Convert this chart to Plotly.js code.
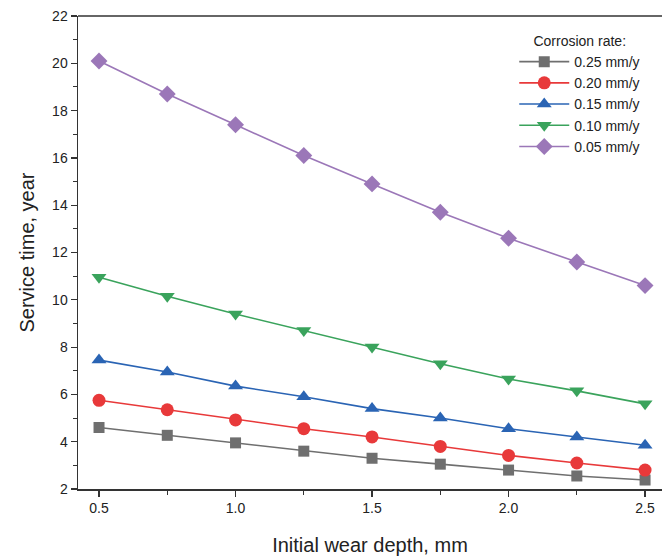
<!DOCTYPE html>
<html>
<head>
<meta charset="utf-8">
<script src="https://cdn.plot.ly/plotly-3.0.1.min.js"></script>
<style>html,body{margin:0;padding:0;background:#fff;}#chart{width:662px;height:560px;}</style>
</head>
<body>
<div id="chart"></div>
<script>
const depth = [0.5, 0.75, 1.0, 1.25, 1.5, 1.75, 2.0, 2.25, 2.5];
const rate025 = [4.6, 4.27, 3.95, 3.6, 3.3, 3.05, 2.8, 2.55, 2.38];
const rate020 = [5.75, 5.35, 4.92, 4.55, 4.2, 3.8, 3.42, 3.1, 2.8];
const rate015 = [7.45, 6.95, 6.35, 5.9, 5.4, 5.0, 4.55, 4.2, 3.85];
const rate010 = [10.95, 10.15, 9.4, 8.7, 8.0, 7.3, 6.65, 6.15, 5.6];
const rate005 = [20.1, 18.7, 17.4, 16.1, 14.9, 13.7, 12.6, 11.6, 10.6];
const seriesNames = ["0.25 mm/y", "0.20 mm/y", "0.15 mm/y", "0.10 mm/y", "0.05 mm/y"];
const xTickVals = [0.5, 1.0, 1.5, 2.0, 2.5];
const xTickText = ["0.5", "1.0", "1.5", "2.0", "2.5"];

const colors = ["#6f6f6f", "#e8393a", "#2a64b4", "#3aa35c", "#9b77b8"];
const symbols = ["square", "circle", "triangle-up", "triangle-down", "diamond"];
const sizes = [11, 13, 13, 13, 13];
const allY = [rate025, rate020, rate015, rate010, rate005];

const traces = allY.map((ys, i) => ({
  x: depth, y: ys, name: seriesNames[i], type: "scatter", mode: "lines+markers",
  line: {color: colors[i], width: 1.6},
  marker: {symbol: symbols[i], size: sizes[i], color: colors[i], line: {width: 0}}
}));

const font = "Liberation Sans, Arial, sans-serif";
const layout = {
  width: 662, height: 560,
  margin: {l: 78, r: 0, t: 16, b: 71},
  paper_bgcolor: "#fff", plot_bgcolor: "#fff",
  font: {family: font, color: "#222"},
  showlegend: true,
  legend: {
    x: 0.747, y: 0.975, xanchor: "left", yanchor: "top",
    bgcolor: "rgba(0,0,0,0)", borderwidth: 0,
    font: {size: 14, family: font, color: "#222"},
    title: {text: "Corrosion rate:", side: "top center", font: {size: 14, family: font, color: "#222"}},
    itemwidth: 50, tracegroupgap: 0
  },
  xaxis: {
    range: [0.423, 2.562], tickvals: xTickVals, ticktext: xTickText,
    showline: true, linecolor: "#333", linewidth: 1.5,
    ticks: "outside", ticklen: 6, tickwidth: 1.2, tickcolor: "#333",
    minor: {tickvals: [0.75, 1.25, 1.75, 2.25], ticks: "outside", ticklen: 4, tickcolor: "#333", tickwidth: 1, showgrid: false},
    showgrid: false, zeroline: false,
    tickfont: {size: 14, family: font, color: "#222"},
    title: {text: "Initial wear depth, mm", font: {size: 20, family: font, color: "#222"}, standoff: 22}
  },
  yaxis: {
    range: [2, 22], dtick: 2, tick0: 2,
    showline: true, linecolor: "#333", linewidth: 1.5,
    ticks: "outside", ticklen: 6, tickwidth: 1.2, tickcolor: "#333",
    minor: {dtick: 1, ticks: "outside", ticklen: 4, tickcolor: "#333", tickwidth: 1, showgrid: false},
    showgrid: false, zeroline: false,
    tickfont: {size: 14, family: font, color: "#222"},
    title: {text: "Service time, year", font: {size: 20, family: font, color: "#222"}, standoff: 12}
  },
  shapes: [{type: "line", xref: "paper", yref: "paper", x0: 0, x1: 1, y0: 1, y1: 1, line: {color: "#333", width: 1.5}}]
};

Plotly.newPlot("chart", traces, layout, {displayModeBar: false, staticPlot: true});
</script>
</body>
</html>
